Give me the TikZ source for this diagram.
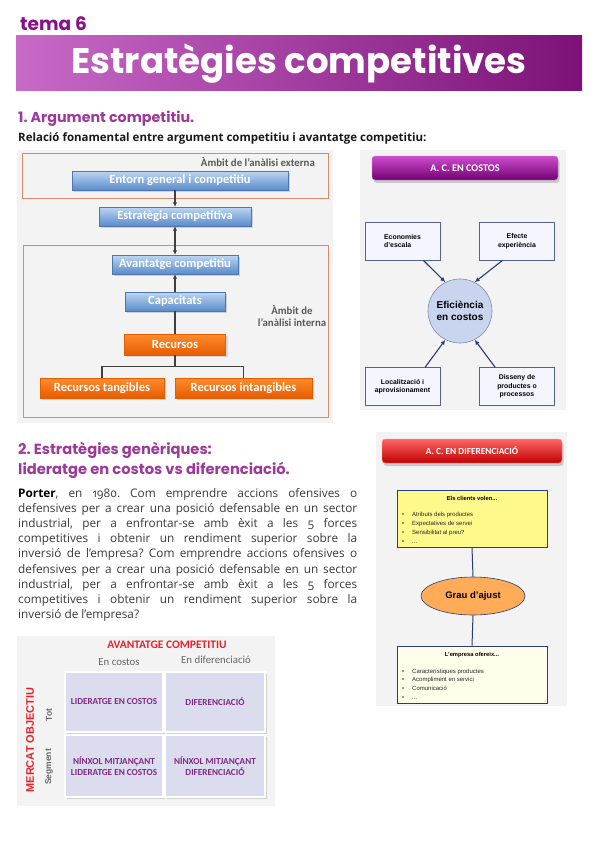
\documentclass[tikz,border=0pt]{standalone}
\usepackage{fontspec}
\setmainfont{Open Sans}[Numbers=OldStyle]
\newfontfamily\headfont{Poppins}
\newfontfamily\carl{Carlito}
\newfontfamily\arialf{Liberation Sans}
\frenchspacing
\usetikzlibrary{shadows,shapes.geometric,arrows.meta,calc}
\definecolor{temac}{HTML}{8A0F8A}
\definecolor{headc}{HTML}{9B3A9B}
\definecolor{banL}{HTML}{C86AC8}
\definecolor{banR}{HTML}{7C1277}
\definecolor{bluetop}{HTML}{BDD6F2}
\definecolor{bluebot}{HTML}{5A8BCB}
\definecolor{orgtop}{HTML}{FF8C2E}
\definecolor{orgbot}{HTML}{E65C00}
\definecolor{framec}{HTML}{D98B6C}
\definecolor{navy}{HTML}{2B3A7A}
\definecolor{bgc}{HTML}{F3F3F3}
\definecolor{bodyc}{HTML}{3A3A3A}
\definecolor{cellc}{HTML}{DCDCEF}
\definecolor{celltxt}{HTML}{7F2A80}
\definecolor{redc}{HTML}{E8202A}
\definecolor{circc}{HTML}{C9D4EE}
\begin{document}
\begin{tikzpicture}[x=1pt,y=-1pt,
  bluebox/.style={shading=axis, top color=bluetop, bottom color=bluebot, draw=bluebot!85!black, line width=0.3pt,
    text=white, font=\carl\bfseries\fontsize{12.5}{14}\selectfont, minimum height=19pt, inner sep=0pt,
    drop shadow={opacity=0.3, shadow xshift=2pt, shadow yshift=-2pt}},
  orgbox/.style={shading=axis, top color=orgtop, bottom color=orgbot, draw=orgbot, line width=0.3pt,
    text=white, font=\carl\bfseries\fontsize{12.5}{14}\selectfont, minimum height=20pt, inner sep=0pt,
    drop shadow={opacity=0.25, shadow xshift=2pt, shadow yshift=-2pt}},
  framebox/.style={draw=framec, line width=0.9pt, inner sep=0pt},
  conn/.style={draw=black!75, line width=1.3pt},
  tip/.style={-{Latex[length=4.5pt,width=4.5pt]}},
  ambit/.style={text=black!65, font=\carl\bfseries\fontsize{10.8}{12}\selectfont, inner sep=0pt},
  costbox/.style={draw=navy!80, fill=blue!4, line width=0.6pt, minimum width=75pt, minimum height=38pt,
    inner sep=1pt, font=\arialf\bfseries\fontsize{6.9}{8.5}\selectfont},
  navarr/.style={draw=navy, line width=1.1pt, -{Latex[length=5pt,width=4.5pt]}},
  titbar/.style={rounded corners=3pt, minimum height=24pt, inner sep=0pt, text=white,
    font=\carl\bfseries\fontsize{9.3}{11}\selectfont,
    drop shadow={opacity=0.35, shadow xshift=1.5pt, shadow yshift=-3pt}},
  listtxt/.style={anchor=base west, inner sep=0pt, font=\arialf\fontsize{6}{7}\selectfont, text=black!85},
  bodyline/.style={anchor=base west, inner sep=0pt, text=bodyc, font=\fontsize{11.8}{14}\selectfont},
  cell/.style={fill=cellc, draw=white, line width=1.5pt, inner sep=0pt, align=center, text=celltxt,
    font=\carl\bfseries\fontsize{9.2}{11.5}\selectfont,
    drop shadow={opacity=0.3, shadow xshift=1.5pt, shadow yshift=-1.5pt}}
]
\useasboundingbox (0,0) rectangle (599,848);
\fill[white] (0,0) rectangle (599,848);

% ---------- header ----------
\node[anchor=base west, inner sep=0pt, text=temac, font=\headfont\bfseries\fontsize{18.5}{20}\selectfont] (tema) at (20,31) {tema 6};
\node[minimum width=566pt, minimum height=55pt, inner sep=0pt, left color=banL, right color=banR,
  text=white, font=\headfont\bfseries\fontsize{35.6}{36}\selectfont] (ban) at (299,63.5) {Estratègies competitives};

\node[anchor=base west, inner sep=0pt, text=headc, font=\headfont\bfseries\fontsize{14.3}{15}\selectfont] (h1) at (18,122) {1. Argument competitiu.};
\node[anchor=base west, inner sep=0pt, text=black!90, font=\bfseries\fontsize{11.5}{13}\selectfont] (rel) at (18,141)
  {Relació fonamental entre argument competitiu i avantatge competitiu:};

% ---------- left diagram ----------
\fill[bgc] (17,150) rectangle (333,423);
\node[framebox, minimum width=306pt, minimum height=45pt] (ext) at (175,175.5) {};
\node[framebox, minimum width=305pt, minimum height=172pt] (int) at (175.5,331) {};
\node[ambit, anchor=east] (ambext) at (315,162.5) {Àmbit de l’anàlisi externa};
\node[ambit, align=center] (ambint) at (292,316) {Àmbit de\\l’anàlisi interna};

\node[bluebox, minimum width=216pt] (entorn) at (180,180.5) {Entorn general i competitiu};
\node[bluebox, minimum width=152pt] (estr) at (175,216.5) {Estratègia competitiva};
\node[bluebox, minimum width=126pt] (avant) at (175,264.5) {Avantatge competitiu};
\node[bluebox, minimum width=100pt] (capac) at (175,301.5) {Capacitats};
\node[orgbox, minimum width=101pt, minimum height=21pt] (rec) at (175,344.5) {Recursos};
\node[orgbox, minimum width=124pt] (tang) at (102,388) {Recursos tangibles};
\node[orgbox, minimum width=137pt] (intang) at (243.5,388) {Recursos intangibles};

\draw[conn, tip] (estr.north |- entorn.south) -- (estr.north);
\draw[conn, {Latex[length=4.5pt,width=4.5pt]}-{Latex[length=4.5pt,width=4.5pt]}] (estr.south) -- (avant.north);
\draw[conn, tip] (capac.north) -- (avant.south);
\draw[conn] (capac.south) -- (rec.north);
\draw[conn] (rec.south) -- ++(0,11) coordinate (bj);
\draw[conn] (tang.north) |- (bj) -| (intang.north);

% ---------- right top diagram ----------
\fill[bgc] (360,150) rectangle (566,410);
\node[titbar, minimum width=186pt, shading=axis, top color=violet!55!magenta!70!white, bottom color=violet!70!black!85!magenta, draw=violet!40, font=\carl\bfseries\fontsize{10.2}{12}\selectfont] (ctit) at (465,168) {A. C. EN COSTOS};
\node[costbox, align=left] (econ) at (402.5,241) {Economies\\d’escala};
\node[costbox, align=center] (efe) at (517,241) {Efecte\\experiència};
\node[costbox, align=center] (loc) at (402.5,386.5) {Localització i\\aprovisionament};
\node[costbox, align=center] (dis) at (517,386.5) {Disseny de\\productes o\\processos};
\node[circle, draw=navy!60, line width=0.6pt, fill=circc, minimum size=64pt, inner sep=0pt,
  align=center, font=\arialf\bfseries\fontsize{10}{12}\selectfont] (eff) at (460,311) {Eficiència\\en costos};
\draw[navarr] ($(econ.south)!0.55!(econ.south east)$) -- (eff.117);
\draw[navarr] ($(efe.south)!0.38!(efe.south west)$) -- (eff.63);
\draw[navarr] ($(loc.north)!0.6!(loc.north east)$) -- (eff.243);
\draw[navarr] ($(dis.north)!0.58!(dis.north west)$) -- (eff.297);

% ---------- section 2 ----------
\node[anchor=base west, inner sep=0pt, text=headc, font=\headfont\bfseries\fontsize{14.7}{15}\selectfont] (h2a) at (18,454) {2. Estratègies genèriques:};
\node[anchor=base west, inner sep=0pt, text=headc, font=\headfont\bfseries\fontsize{14.7}{15}\selectfont] (h2b) at (18,474) {lideratge en costos vs diferenciació.};

\node[bodyline] (p1) at (18,497) {\makebox[339pt][s]{\textcolor{black}{\bfseries Porter}, en 1980. Com emprendre accions ofensives o}};
\node[bodyline] (p2) at (18,512.2) {\makebox[339pt][s]{defensives per a crear una posició defensable en un sector}};
\node[bodyline] (p3) at (18,527.4) {\makebox[339pt][s]{industrial, per a enfrontar-se amb èxit a les 5 forces}};
\node[bodyline] (p4) at (18,542.6) {\makebox[339pt][s]{competitives i obtenir un rendiment superior sobre la}};
\node[bodyline] (p5) at (18,557.8) {\makebox[339pt][s]{inversió de l’empresa? Com emprendre accions ofensives o}};
\node[bodyline] (p6) at (18,573) {\makebox[339pt][s]{defensives per a crear una posició defensable en un sector}};
\node[bodyline] (p7) at (18,588.2) {\makebox[339pt][s]{industrial, per a enfrontar-se amb èxit a les 5 forces}};
\node[bodyline] (p8) at (18,603.4) {\makebox[339pt][s]{competitives i obtenir un rendiment superior sobre la}};
\node[bodyline] (p9) at (18,618.6) {inversió de l’empresa?};

% ---------- right bottom diagram ----------
\fill[bgc] (376,432) rectangle (567,706);
\node[titbar, minimum width=180pt, shading=axis, top color=red!60!white, bottom color=red!75!black, draw=red!40] (dtit) at (472,451) {A. C. EN DIFERENCIACIÓ};
\node[draw=navy, line width=0.6pt, fill=yellow!45, minimum width=150pt, minimum height=57pt, inner sep=0pt] (ybox) at (472,518.5) {};
\node[draw=navy, line width=0.6pt, fill=yellow!8, minimum width=150pt, minimum height=57pt, inner sep=0pt] (obox) at (472,674.5) {};
\node[ellipse, draw=navy, line width=0.6pt, fill=orange!65, minimum width=104pt, minimum height=38pt, inner sep=0pt,
  font=\arialf\bfseries\fontsize{9.5}{11}\selectfont] (ell) at (473,596) {Grau d’ajust};
\draw[draw=navy, line width=1pt] (ybox.south) -- (ell.north);
\draw[draw=navy, line width=1pt] (ell.south) -- (obox.north);

\node[inner sep=0pt, font=\arialf\bfseries\fontsize{5.8}{7}\selectfont] (yt) at (472,498) {Els clients volen...};
\node[listtxt] (y1) at (402,516) {\makebox[10pt][l]{•}Atributs dels productes};
\node[listtxt] (y2) at (402,525) {\makebox[10pt][l]{•}Expectatives de servei};
\node[listtxt] (y3) at (402,534) {\makebox[10pt][l]{•}Sensibilitat al preu?};
\node[listtxt] (y4) at (402,543) {\makebox[10pt][l]{•}...};
\node[inner sep=0pt, font=\arialf\bfseries\fontsize{5.8}{7}\selectfont] (ot) at (472,655) {L’empresa ofereix...};
\node[listtxt] (o1) at (402,673) {\makebox[10pt][l]{•}Característiques productes};
\node[listtxt] (o2) at (402,681.5) {\makebox[10pt][l]{•}Acompliment en servici};
\node[listtxt] (o3) at (402,690) {\makebox[10pt][l]{•}Comunicació};
\node[listtxt] (o4) at (402,699) {\makebox[10pt][l]{•}...};

% ---------- matrix ----------
\fill[bgc] (17,636) rectangle (275,806);
\node[inner sep=0pt, text=redc, font=\carl\bfseries\fontsize{11.5}{13}\selectfont] (avc) at (167,645) {AVANTATGE COMPETITIU};
\node[inner sep=0pt, text=black!60, font=\carl\fontsize{10.8}{12}\selectfont] (enc) at (119,662) {En costos};
\node[inner sep=0pt, text=black!60, font=\carl\fontsize{10.8}{12}\selectfont] (end) at (216,660) {En diferenciació};
\node[cell, minimum width=98pt, minimum height=60pt] (c11) at (114,702) {LIDERATGE EN COSTOS};
\node[cell, minimum width=100pt, minimum height=60pt] (c12) at (215,702) {DIFERENCIACIÓ};
\node[cell, minimum width=98pt, minimum height=62pt] (c21) at (114,766) {NÍNXOL MITJANÇANT\\LIDERATGE EN COSTOS};
\node[cell, minimum width=100pt, minimum height=62pt] (c22) at (215,766) {NÍNXOL MITJANÇANT\\DIFERENCIACIÓ};
\node[rotate=90, inner sep=0pt, text=redc, font=\arialf\bfseries\fontsize{11}{12}\selectfont] (merc) at (30,740) {MERCAT OBJECTIU};
\node[rotate=90, inner sep=0pt, text=black!60, font=\arialf\bfseries\fontsize{8.5}{10}\selectfont] (tot) at (49,715) {Tot};
\node[rotate=90, inner sep=0pt, text=black!60, font=\arialf\bfseries\fontsize{8.5}{10}\selectfont] (seg) at (49,767) {Segment};
\end{tikzpicture}
\end{document}
